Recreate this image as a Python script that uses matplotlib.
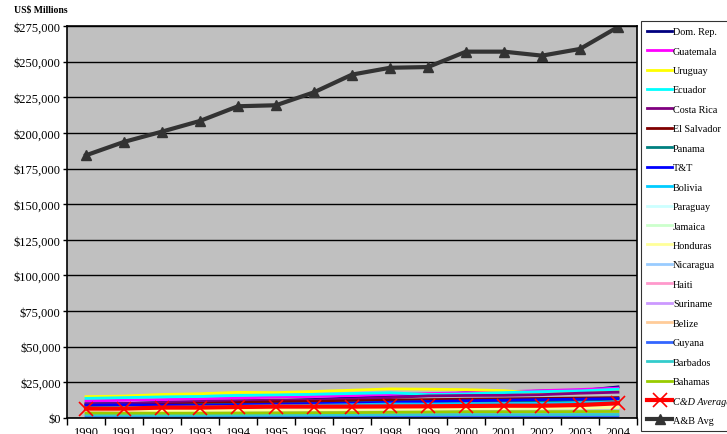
import matplotlib.pyplot as plt
import numpy as np
from matplotlib.ticker import FuncFormatter, FixedLocator

plt.rcParams['font.family'] = ['Liberation Serif', 'DejaVu Serif']

years = ['1990', '1991', '1992', '1993', '1994', '1995', '1996', '1997',
         '1998', '1999', '2000', '2001', '2002', '2003', '2004']

# GDP by country, US$ millions (approximate)
dom_rep = [10000, 10100, 10800, 11100, 11600, 12100, 13000, 14100, 15100, 16300, 17600, 18100, 18900, 19200, 21800]
guatemala = [12000, 12400, 12900, 13500, 14000, 14700, 15100, 15700, 16500, 17100, 17700, 18400, 19200, 20000, 21000]
uruguay = [15000, 15400, 16500, 17000, 18000, 17800, 18600, 19500, 20400, 20200, 19900, 19200, 17200, 17600, 19400]
ecuador = [13800, 14300, 14800, 15100, 15800, 16200, 16600, 17200, 17700, 16500, 16900, 17800, 18500, 19000, 20200]
costa_rica = [9800, 10000, 10900, 11600, 12100, 12500, 12600, 13300, 14300, 15500, 15800, 15900, 16400, 17400, 18100]
el_salvador = [8600, 8900, 9500, 10200, 10800, 11400, 11600, 12100, 12500, 12900, 13200, 13400, 13700, 14000, 14300]
panama = [7300, 8000, 8700, 9200, 9500, 9700, 10000, 10500, 11000, 11400, 11700, 11800, 12000, 12500, 13300]
tt = [9000, 9200, 9100, 8900, 9300, 9700, 10100, 10400, 11000, 11500, 12100, 12500, 12900, 13200, 13600]
bolivia = [7000, 7400, 7500, 7800, 8200, 8600, 8900, 9300, 9800, 9800, 10000, 10100, 10300, 10600, 11000]
paraguay = [6400, 6600, 6700, 7000, 7200, 7600, 7700, 7900, 7900, 7800, 7600, 7800, 7500, 7800, 8100]
jamaica = [6200, 6300, 6400, 6500, 6600, 6800, 6700, 6600, 6600, 6600, 6700, 6800, 6900, 7100, 7300]
honduras = [4600, 4700, 5000, 5300, 5300, 5500, 5700, 6000, 6200, 6100, 6500, 6700, 6900, 7100, 7500]
nicaragua = [2600, 2600, 2700, 2700, 2800, 3000, 3100, 3300, 3400, 3700, 3900, 4000, 4000, 4100, 4300]
haiti = [3600, 3600, 3100, 3000, 2700, 2900, 3000, 3100, 3200, 3300, 3300, 3300, 3200, 3300, 3200]
suriname = [1100, 1100, 1100, 1000, 1000, 1000, 1100, 1100, 1100, 1100, 1100, 1100, 1100, 1200, 1300]
belize = [500, 550, 600, 650, 650, 700, 700, 700, 750, 800, 850, 900, 950, 1000, 1050]
guyana = [600, 650, 700, 750, 800, 850, 900, 900, 900, 900, 900, 900, 900, 900, 950]
barbados = [2100, 2000, 1900, 1950, 2000, 2050, 2100, 2200, 2300, 2400, 2450, 2400, 2400, 2450, 2500]
bahamas = [3500, 3400, 3400, 3400, 3500, 3600, 3700, 3800, 4000, 4200, 4400, 4400, 4400, 4500, 4600]

cd_average = [6600, 6600, 7300, 7300, 7700, 8000, 8000, 8000, 8100, 8200, 8400, 8600, 8600, 9100, 10300]
ab_average = [184300, 193700, 200900, 208400, 218700, 219400, 228500, 240900, 245700, 246200,
              257000, 257000, 254200, 258900, 274300]

countries = ['Dom. Rep.', 'Guatemala', 'Uruguay', 'Ecuador', 'Costa Rica', 'El Salvador',
             'Panama', 'T&T', 'Bolivia', 'Paraguay', 'Jamaica', 'Honduras', 'Nicaragua',
             'Haiti', 'Suriname', 'Belize', 'Guyana', 'Barbados', 'Bahamas']
series = [dom_rep, guatemala, uruguay, ecuador, costa_rica, el_salvador, panama, tt,
          bolivia, paraguay, jamaica, honduras, nicaragua, haiti, suriname, belize,
          guyana, barbados, bahamas]
colors = ['#000080', '#FF00FF', '#FFFF00', '#00FFFF', '#800080', '#800000', '#008080',
          '#0000FF', '#00CCFF', '#CCFFFF', '#CCFFCC', '#FFFF99', '#99CCFF', '#FF99CC',
          '#CC99FF', '#FFCC99', '#3366FF', '#33CCCC', '#99CC00']

fig = plt.figure(figsize=(7.27, 4.35), dpi=100)
ax = fig.add_axes([67/727, 1 - 419/435, 570/727, 392/435])
ax.set_facecolor('#C0C0C0')

x = np.arange(len(years))
for name, vals, c in zip(countries, series, colors):
    ax.plot(x, vals, color=c, lw=2, label=name)
ax.plot(x, cd_average, color='#FF0000', lw=3, marker='x', ms=10, mew=1.2,
        label='C&D Average')
ax.plot(x, ab_average, color='#333333', lw=3, marker='^', ms=7, label='A&B Avg')

ax.set_xlim(-0.5, len(years) - 0.5)
ax.set_ylim(0, 275000)
ax.set_yticks(np.arange(0, 275001, 25000))
ax.yaxis.set_major_formatter(FuncFormatter(lambda v, p: '${:,.0f}'.format(v)))
ax.grid(True, axis='y', color='black', lw=1)
ax.set_axisbelow(True)

# category axis: ticks between categories, labels centred
ax.xaxis.set_major_locator(FixedLocator(np.arange(-0.5, len(years), 1)))
ax.xaxis.set_minor_locator(FixedLocator(x))
ax.set_xticklabels([], minor=False)
ax.set_xticklabels(years, minor=True)
ax.tick_params(axis='x', which='major', length=5, width=1, direction='out')
ax.tick_params(axis='x', which='minor', length=0, pad=6, labelsize=9)
ax.tick_params(axis='y', length=3, width=1, direction='out', labelsize=9, pad=1.5)
for s in ax.spines.values():
    s.set_color('black')
    s.set_linewidth(1.2)

fig.text(14/727, 1 - 10/435, 'US$ Millions', fontsize=7, fontweight='bold',
         va='center', ha='left')

leg = fig.legend(loc='upper left', bbox_to_anchor=(641/727, 1 - 22/435),
                 fontsize=7.3, frameon=True, fancybox=False, edgecolor='black',
                 handlelength=2.5, handletextpad=0.05, labelspacing=1.02,
                 borderpad=0.6, borderaxespad=0)
leg.get_frame().set_linewidth(0.8)
for t in leg.get_texts():
    if t.get_text() == 'C&D Average':
        t.set_style('italic')

fig.savefig('out.png', dpi=100)
